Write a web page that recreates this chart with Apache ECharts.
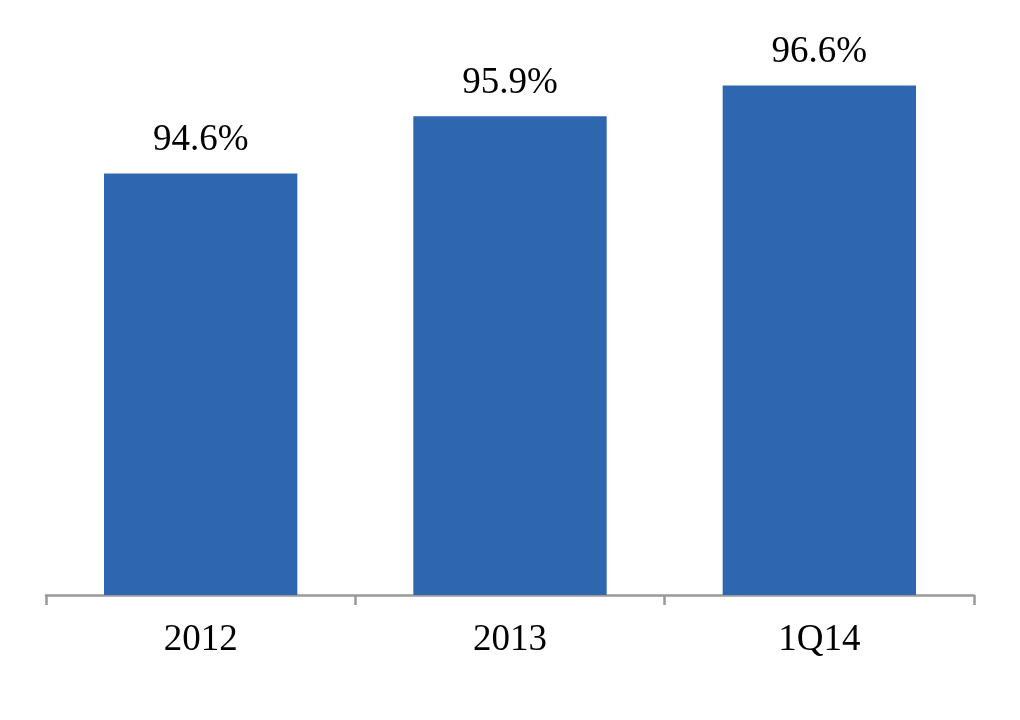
<!DOCTYPE html>
<html>
<head>
<meta charset="utf-8">
<script src="https://cdn.jsdelivr.net/npm/echarts@6/dist/echarts.min.js"></script>
<style>
  html, body { margin: 0; padding: 0; background: #fff; }
  #chart { width: 1020px; height: 720px; }
</style>
</head>
<body>
<div id="chart"></div>
<script>
// data
var categories = ['2012', '2013', '1Q14'];
var values = [94.6, 95.9, 96.6];

var chart = echarts.init(document.getElementById('chart'));
var option = {
    animation: false,
    grid: {
        left: 46,
        right: 46,
        top: 68,
        bottom: 125
    },
    xAxis: {
        type: 'category',
        data: categories,
        axisLine: { lineStyle: { color: '#999999', width: 2.5 } },
        axisTick: { show: true, alignWithLabel: false, length: 10, lineStyle: { color: '#999999', width: 2.5 } },
        axisLabel: {
            margin: 27,
            color: '#000',
            fontFamily: 'Liberation Serif',
            fontSize: 37
        }
    },
    yAxis: {
        type: 'value',
        min: 85,
        max: 97,
        show: false
    },
    series: [
        {
            type: 'bar',
            data: values,
            barWidth: '62.5%',
            itemStyle: { color: '#2E66B0' },
            label: {
                show: true,
                position: 'top',
                distance: 15,
                color: '#000',
                fontFamily: 'Liberation Serif',
                fontSize: 37,
                formatter: function (p) { return p.value.toFixed(1) + '%'; }
            }
        }
    ]
};
chart.setOption(option);
</script>
</body>
</html>
